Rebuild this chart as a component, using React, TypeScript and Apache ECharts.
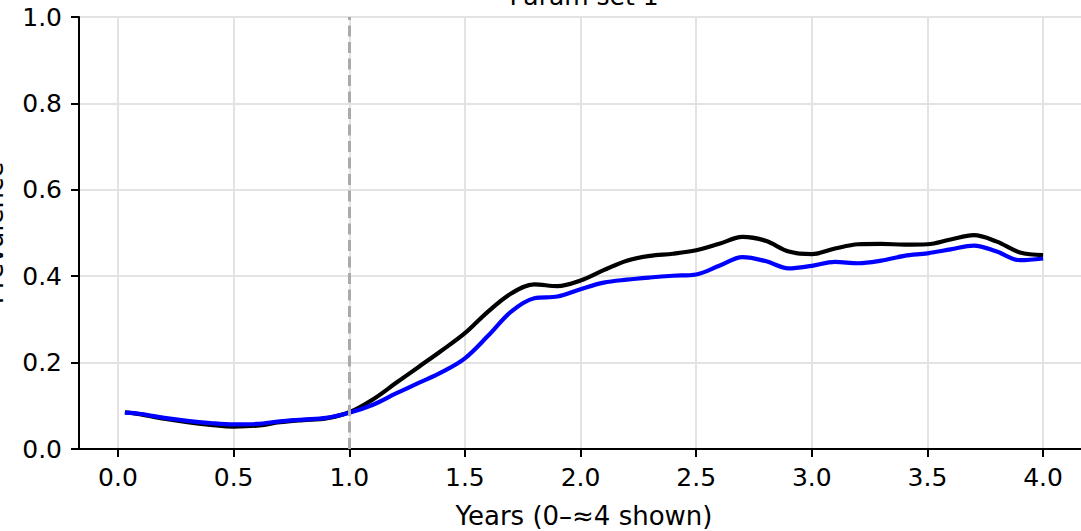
import React, { useEffect, useRef } from "react";
import * as echarts from "echarts";

const years = [0.03, 0.1, 0.2, 0.3, 0.4, 0.5, 0.6, 0.7, 0.8, 0.9, 1.0, 1.1, 1.2, 1.3, 1.4, 1.5, 1.6, 1.7, 1.8, 1.9, 2.0, 2.1, 2.2, 2.3, 2.4, 2.5, 2.6, 2.7, 2.8, 2.9, 3.0, 3.1, 3.2, 3.3, 3.4, 3.5, 3.6, 3.7, 3.8, 3.9, 4.0];
const blackSeries = [0.085, 0.080, 0.070, 0.062, 0.056, 0.052, 0.054, 0.062, 0.067, 0.071, 0.085, 0.114, 0.152, 0.190, 0.228, 0.268, 0.318, 0.360, 0.381, 0.377, 0.390, 0.414, 0.436, 0.447, 0.452, 0.460, 0.475, 0.491, 0.482, 0.457, 0.451, 0.464, 0.474, 0.475, 0.473, 0.474, 0.485, 0.495, 0.480, 0.455, 0.449];
const blueSeries = [0.084, 0.081, 0.072, 0.065, 0.060, 0.057, 0.058, 0.064, 0.068, 0.072, 0.084, 0.102, 0.128, 0.153, 0.178, 0.210, 0.262, 0.318, 0.349, 0.353, 0.370, 0.385, 0.392, 0.397, 0.401, 0.404, 0.424, 0.444, 0.435, 0.418, 0.424, 0.433, 0.430, 0.436, 0.447, 0.453, 0.462, 0.471, 0.457, 0.437, 0.441];
const xTicks = [0, 0.5, 1.0, 1.5, 2.0, 2.5, 3.0, 3.5, 4.0];
const cutoffYear = 1.0;
const titleText = "Param set 1";
const xName = "Years (0–≈4 shown)";
const yName = "Prevalence";

export default function App() {
  const ref = useRef<HTMLDivElement>(null);
  useEffect(() => {
    if (!ref.current) return;
    const chart = echarts.init(ref.current, null, { renderer: "svg" });
    const font = "DejaVu Sans";
    const gridLeft = 79;
    const gridWidth = 1010;
    chart.setOption({
      animation: false,
      backgroundColor: "#ffffff",
      textStyle: { fontFamily: font },
      grid: {
        left: gridLeft,
        top: 17,
        width: gridWidth,
        height: 432,
        show: true,
        borderColor: "#000000",
        borderWidth: 2,
        containLabel: false,
        outerBoundsMode: "none",
      },
      graphic: [
        {
          type: "text",
          x: gridLeft + gridWidth / 2,
          y: 9,
          style: {
            text: titleText,
            fontSize: 25,
            fontFamily: font,
            fill: "#000000",
            textAlign: "center",
            textVerticalAlign: "bottom",
          },
        },
      ],
      xAxis: {
        type: "value",
        min: -0.1685,
        max: 4.1985,
        name: xName,
        nameLocation: "middle",
        nameGap: 54,
        nameTextStyle: { fontSize: 26, color: "#000", fontFamily: font },
        axisLine: { show: true, onZero: false, lineStyle: { color: "#000", width: 2 } },
        axisTick: {
          show: true,
          length: 8,
          customValues: xTicks,
          lineStyle: { color: "#000", width: 2 },
        },
        axisLabel: {
          customValues: xTicks,
          margin: 16,
          fontSize: 25,
          color: "#000",
          fontFamily: font,
          formatter: (v: number) => v.toFixed(1),
        },
        splitLine: { show: true, lineStyle: { color: "#e3e3e3", width: 2 } },
      },
      yAxis: {
        type: "value",
        min: 0,
        max: 1,
        interval: 0.2,
        name: yName,
        nameLocation: "middle",
        nameGap: 72,
        nameTextStyle: { fontSize: 26, color: "#000", fontFamily: font },
        axisLine: { show: true, onZero: false, lineStyle: { color: "#000", width: 2 } },
        axisTick: { show: true, length: 8, lineStyle: { color: "#000", width: 2 } },
        axisLabel: {
          margin: 17,
          fontSize: 25,
          color: "#000",
          fontFamily: font,
          formatter: (v: number) => v.toFixed(1),
        },
        splitLine: { show: true, lineStyle: { color: "#e3e3e3", width: 2 } },
      },
      series: [
        {
          type: "line",
          data: years.map((x, i) => [x, blackSeries[i]]),
          showSymbol: false,
          smooth: 0.35,
          lineStyle: { color: "#000000", width: 4.2 },
          z: 3,
        },
        {
          type: "line",
          data: years.map((x, i) => [x, blueSeries[i]]),
          showSymbol: false,
          smooth: 0.35,
          lineStyle: { color: "#0000ff", width: 4.2 },
          z: 4,
          markLine: {
            silent: true,
            symbol: ["none", "none"],
            label: { show: false },
            lineStyle: { color: "#aaaaaa", type: [11, 5.5], width: 3 },
            data: [{ xAxis: cutoffYear }],
          },
        },
      ],
    });
    return () => chart.dispose();
  }, []);
  return (
    <div
      ref={ref}
      style={{ position: "absolute", left: 0, top: 0, width: 1081, height: 531 }}
    />
  );
}
